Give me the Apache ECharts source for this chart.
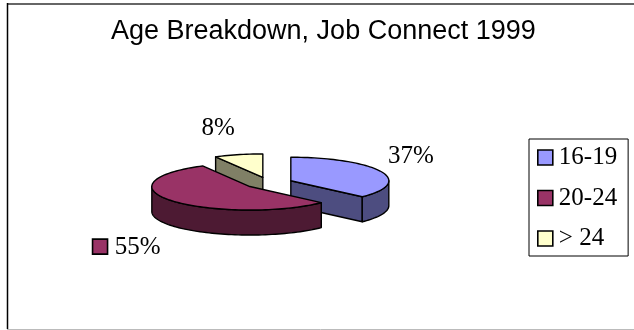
<!DOCTYPE html>
<html>
<head>
<meta charset="utf-8">
<script src="https://cdn.jsdelivr.net/npm/echarts@6/dist/echarts.min.js"></script>
<style>
html,body{margin:0;padding:0;background:#fff;}
#chart{width:634px;height:330px;}
</style>
</head>
<body>
<div id="chart"></div>
<script>
// ---- data ----
const categories = ['16-19', '20-24', '> 24'];
const values = [37, 55, 8];
const labelTexts = ['37%', '55%', '8%'];
const topColors = ['#9999FF', '#993366', '#FFFFCC'];
const sideColors = ['#4D4D80', '#4D1A33', '#808066'];
const labelKey = [false, true, false];

// ---- geometry (layout) ----
const CX = 268.8, CY = 183, RX = 98, RY = 23.5, H = 25, EX = 24;
const SERIF = '"Liberation Serif", "Times New Roman", serif';

const total = values.reduce((a, b) => a + b, 0);
const starts = [];
let acc = 0;
values.forEach(v => { starts.push(acc / total * 360); acc += v; });
const mids = values.map((v, i) => starts[i] + v / total * 180);
const order = mids.map((m, i) => i).sort((a, b) => Math.cos(mids[b] * Math.PI / 180) - Math.cos(mids[a] * Math.PI / 180));
const rank = [];
order.forEach((idx, r) => { rank[idx] = r; });

function rad(a) { return a * Math.PI / 180; }
function pt(cx, cy, a, dy) { return [cx + RX * Math.sin(rad(a)), cy - RY * Math.cos(rad(a)) + (dy || 0)]; }
function arc(cx, cy, a0, a1, dy) {
  const n = Math.max(2, Math.ceil(Math.abs(a1 - a0) / 2));
  const out = [];
  for (let k = 0; k <= n; k++) out.push(pt(cx, cy, a0 + (a1 - a0) * k / n, dy));
  return out;
}

function makeRender(i) {
  return function (params, api) {
    const sweep = api.value(0) / total * 360;
    const a0 = starts[i], a1 = a0 + sweep, mid = (a0 + a1) / 2;
    const cx = CX + EX * Math.sin(rad(mid));
    const cy = CY - EX * (RY / RX) * Math.cos(rad(mid));
    const base = rank[i] * 10;
    const stroke = { stroke: '#000', lineWidth: 1.4, lineJoin: 'round' };
    const children = [];
    const side = Object.assign({ fill: sideColors[i] }, stroke);
    const c = [cx, cy], cb = [cx, cy + H];
    if (Math.cos(rad(a1 + 90)) < -0.01) {
      const p = pt(cx, cy, a1);
      children.push({ type: 'polygon', z2: base, shape: { points: [c, p, [p[0], p[1] + H], cb] }, style: side });
    }
    if (Math.cos(rad(a0 - 90)) < -0.01) {
      const p = pt(cx, cy, a0);
      children.push({ type: 'polygon', z2: base, shape: { points: [c, p, [p[0], p[1] + H], cb] }, style: side });
    }
    const s = Math.max(a0, 90), e = Math.min(a1, 270);
    if (s < e) {
      children.push({ type: 'polygon', z2: base + 1, shape: { points: arc(cx, cy, s, e, 0).concat(arc(cx, cy, e, s, H)) }, style: side });
    }
    children.push({ type: 'polygon', z2: base + 2, shape: { points: [c].concat(arc(cx, cy, a0, a1, 0)) }, style: Object.assign({ fill: topColors[i] }, stroke) });

    // label
    const sn = Math.sin(rad(mid)), cs = Math.cos(rad(mid));
    const lx = cx + (RX + (sn > 0 ? 8 : 15)) * sn;
    const ly = cs > 0 ? cy - RY * cs - 15 * cs * cs : cy - (RY + 15) * cs + H;
    const align = sn > 0.2 ? 'left' : (sn < -0.2 ? 'right' : 'center');
    const valign = cs > 0 ? 'bottom' : 'top';
    children.push({ type: 'text', z2: 200, style: { text: labelTexts[i], x: lx, y: ly, fill: '#000', font: '25px ' + SERIF, textAlign: align, textVerticalAlign: valign } });
    if (labelKey[i]) {
      const tw = 46;
      const kx = (align === 'right' ? lx - tw : lx) - 22;
      const ky = (valign === 'top' ? ly + 4 : ly - 19);
      children.push({ type: 'rect', z2: 200, shape: { x: kx, y: ky, width: 15, height: 15 }, style: { fill: topColors[i], stroke: '#000', lineWidth: 1.6 } });
    }
    return { type: 'group', children: children };
  };
}

const series = categories.map((name, i) => ({
  type: 'custom',
  name: name,
  coordinateSystem: 'none',
  itemStyle: { color: topColors[i], borderColor: '#000', borderWidth: 1.5 },
  data: [[values[i]]],
  renderItem: makeRender(i),
  silent: true
}));

const chart = echarts.init(document.getElementById('chart'), null, { renderer: 'canvas' });
chart.setOption({
  animation: false,
  backgroundColor: '#fff',
  title: {
    text: 'Age Breakdown, Job Connect 1999',
    left: 111, top: 18, padding: 0,
    textStyle: { fontFamily: '"Liberation Sans", Arial, sans-serif', fontSize: 27, fontWeight: 'normal', color: '#000' }
  },
  legend: {
    orient: 'vertical',
    left: 529, top: 139,
    padding: [6, 11, 5, 8],
    itemGap: 15.5,
    itemWidth: 15, itemHeight: 15,
    icon: 'rect',
    borderColor: '#000', borderWidth: 1,
    itemStyle: { borderColor: '#000', borderWidth: 1.6 },
    textStyle: { fontFamily: SERIF, fontSize: 25, lineHeight: 24, color: '#000', padding: [0, 0, 0, 1] },
    data: categories,
    selectedMode: false
  },
  graphic: [
    { type: 'line', shape: { x1: 7, y1: 4, x2: 634, y2: 4 }, style: { stroke: '#333', lineWidth: 1.5 } },
    { type: 'line', shape: { x1: 7.5, y1: 3, x2: 7.5, y2: 329 }, style: { stroke: '#000', lineWidth: 1.5 } },
    { type: 'line', shape: { x1: 7, y1: 329.5, x2: 634, y2: 329.5 }, style: { stroke: '#bbb', lineWidth: 1 } }
  ],
  series: series
});
</script>
</body>
</html>
